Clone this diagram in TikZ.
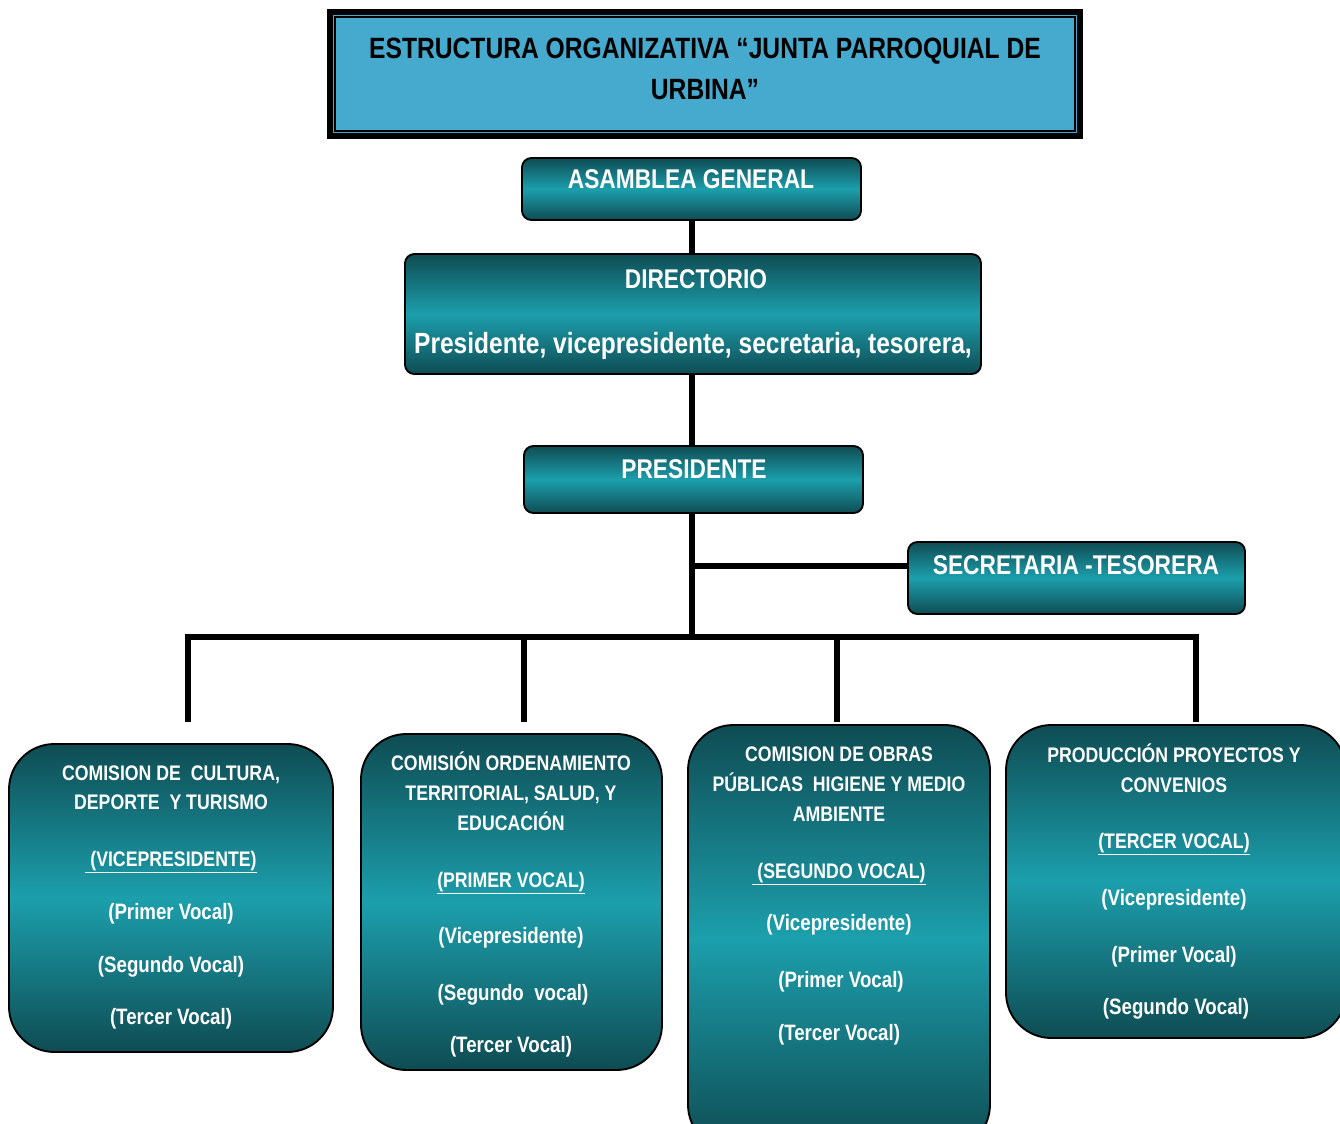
\documentclass[tikz,border=0pt]{standalone}
\usepackage{fontspec}
\setmainfont{Liberation Sans}[FakeStretch=0.84]
\usetikzlibrary{fit,calc}
\definecolor{tdark}{HTML}{0F4C53}
\definecolor{tlight}{HTML}{1C9FAC}
\definecolor{tblue}{HTML}{45AACE}
\begin{document}
\begin{tikzpicture}[x=0.75pt,y=-0.75pt,
  box/.style={draw=black, line width=1.4pt, top color=tdark, bottom color=tdark, middle color=tlight, inner sep=0pt},
  hbox/.style={box, rounded corners=7pt},
  cbox/.style={box, rounded corners=34pt},
  wire/.style={line width=4.6pt},
  ht/.style={text=white, font=\fontsize{20.3}{24}\selectfont\bfseries, anchor=base, inner sep=0pt},
  hl/.style={ht, font=\fontsize{21.9}{25}\selectfont\bfseries},
  ct/.style={text=white, font=\fontsize{15.8}{18}\selectfont\bfseries, anchor=base, inner sep=0pt},
  cl/.style={ct, font=\fontsize{16.7}{19}\selectfont\bfseries},
  tt/.style={text=black, font=\fontsize{22}{26}\selectfont\bfseries, anchor=base, inner sep=0pt}]
\clip (0,0) rectangle (1340,1124);
\fill[white] (0,0) rectangle (1340,1124);

% title
\node[draw=black, line width=4.6pt, fill=tblue, inner sep=0pt, fit={(330,12)(1080,136)}] (title) {};
\draw[line width=1.2pt] ($(title.north west)+(8,8)$) rectangle ($(title.south east)+(-8,-8)$);
\node[tt] (titleA) at (705,59) {ESTRUCTURA ORGANIZATIVA “JUNTA PARROQUIAL DE};
\node[tt] (titleB) at (705,99) {URBINA”};

% upper boxes
\node[hbox, fit={(522,158)(861,220)}] (asam) {};
\node[ht] (asamT) at (691,189) {ASAMBLEA GENERAL};
\node[hbox, fit={(405,254)(981,374)}] (dir) {};
\node[ht] (dirA) at (696,288) {DIRECTORIO};
\node[hl] (dirB) at (693,353) {Presidente, vicepresidente, secretaria, tesorera,};
\node[hbox, fit={(524,446)(863,513)}] (pres) {};
\node[ht] (presT) at (694,478) {PRESIDENTE};
\node[hbox, fit={(908,542)(1245,614)}] (sec) {};
\node[ht] (secT) at (1076,574) {SECRETARIA -TESORERA};

% connectors
\coordinate (j) at (692,637);
\coordinate (sj) at (692,566);
\coordinate (bL) at (188,637);
\coordinate (bR) at (1196,637);
\coordinate (b2) at (524,637);
\coordinate (b3) at (837,637);
\coordinate (d1) at (188,722);
\coordinate (d2) at (524,722);
\coordinate (d3) at (837,722);
\coordinate (d4) at (1196,722);
\draw[wire] (asam.south -| j) -- (dir.north -| j);
\draw[wire] (dir.south -| j) -- (pres.north -| j);
\draw[wire] (pres.south -| j) -- (j);
\draw[wire] (sj) -- (sj -| sec.west);
\draw[wire] (d1) -- (bL) -- (bR) -- (d4);
\draw[wire] (b2) -- (d2);
\draw[wire] (b3) -- (d3);

% commission boxes
\node[cbox, fit={(9,744)(333,1052)}] (c1) {};
\node[ct] (c1a) at (171,780) {COMISION DE\ \ CULTURA,};
\node[ct] (c1b) at (171,809) {DEPORTE\ \ Y TURISMO};
\node[ct] (c1c) at (171,866) {\underline{\ (VICEPRESIDENTE)}};
\node[cl] (c1d) at (171,919) {(Primer Vocal)};
\node[cl] (c1e) at (171,972) {(Segundo Vocal)};
\node[cl] (c1f) at (171,1024) {(Tercer Vocal)};

\node[cbox, fit={(361,734)(662,1070)}] (c2) {};
\node[ct] (c2a) at (511,770) {COMISIÓN ORDENAMIENTO};
\node[ct] (c2b) at (511,800) {TERRITORIAL, SALUD, Y};
\node[ct] (c2c) at (511,830) {EDUCACIÓN};
\node[ct] (c2d) at (511,887) {\underline{(PRIMER VOCAL)}};
\node[cl] (c2e) at (511,943) {(Vicepresidente)};
\node[cl] (c2f) at (513,1000) {(Segundo\ \ vocal)};
\node[cl] (c2g) at (511,1052) {(Tercer Vocal)};

\node[cbox, fit={(688,725)(990,1150)}] (c3) {};
\node[ct] (c3a) at (839,761) {COMISION DE OBRAS};
\node[ct] (c3b) at (839,791) {PÚBLICAS\ \ HIGIENE Y MEDIO};
\node[ct] (c3c) at (839,821) {AMBIENTE};
\node[ct] (c3d) at (839,878) {\underline{\ (SEGUNDO VOCAL)}};
\node[cl] (c3e) at (839,930) {(Vicepresidente)};
\node[cl] (c3f) at (841,987) {(Primer Vocal)};
\node[cl] (c3g) at (839,1040) {(Tercer Vocal)};

\node[cbox, fit={(1006,725)(1346,1038)}] (c4) {};
\node[ct] (c4a) at (1174,762) {PRODUCCIÓN PROYECTOS Y};
\node[ct] (c4b) at (1174,792) {CONVENIOS};
\node[ct] (c4c) at (1174,848) {\underline{(TERCER VOCAL)}};
\node[cl] (c4d) at (1174,905) {(Vicepresidente)};
\node[cl] (c4e) at (1174,962) {(Primer Vocal)};
\node[cl] (c4f) at (1176,1014) {(Segundo Vocal)};
\end{tikzpicture}
\end{document}
